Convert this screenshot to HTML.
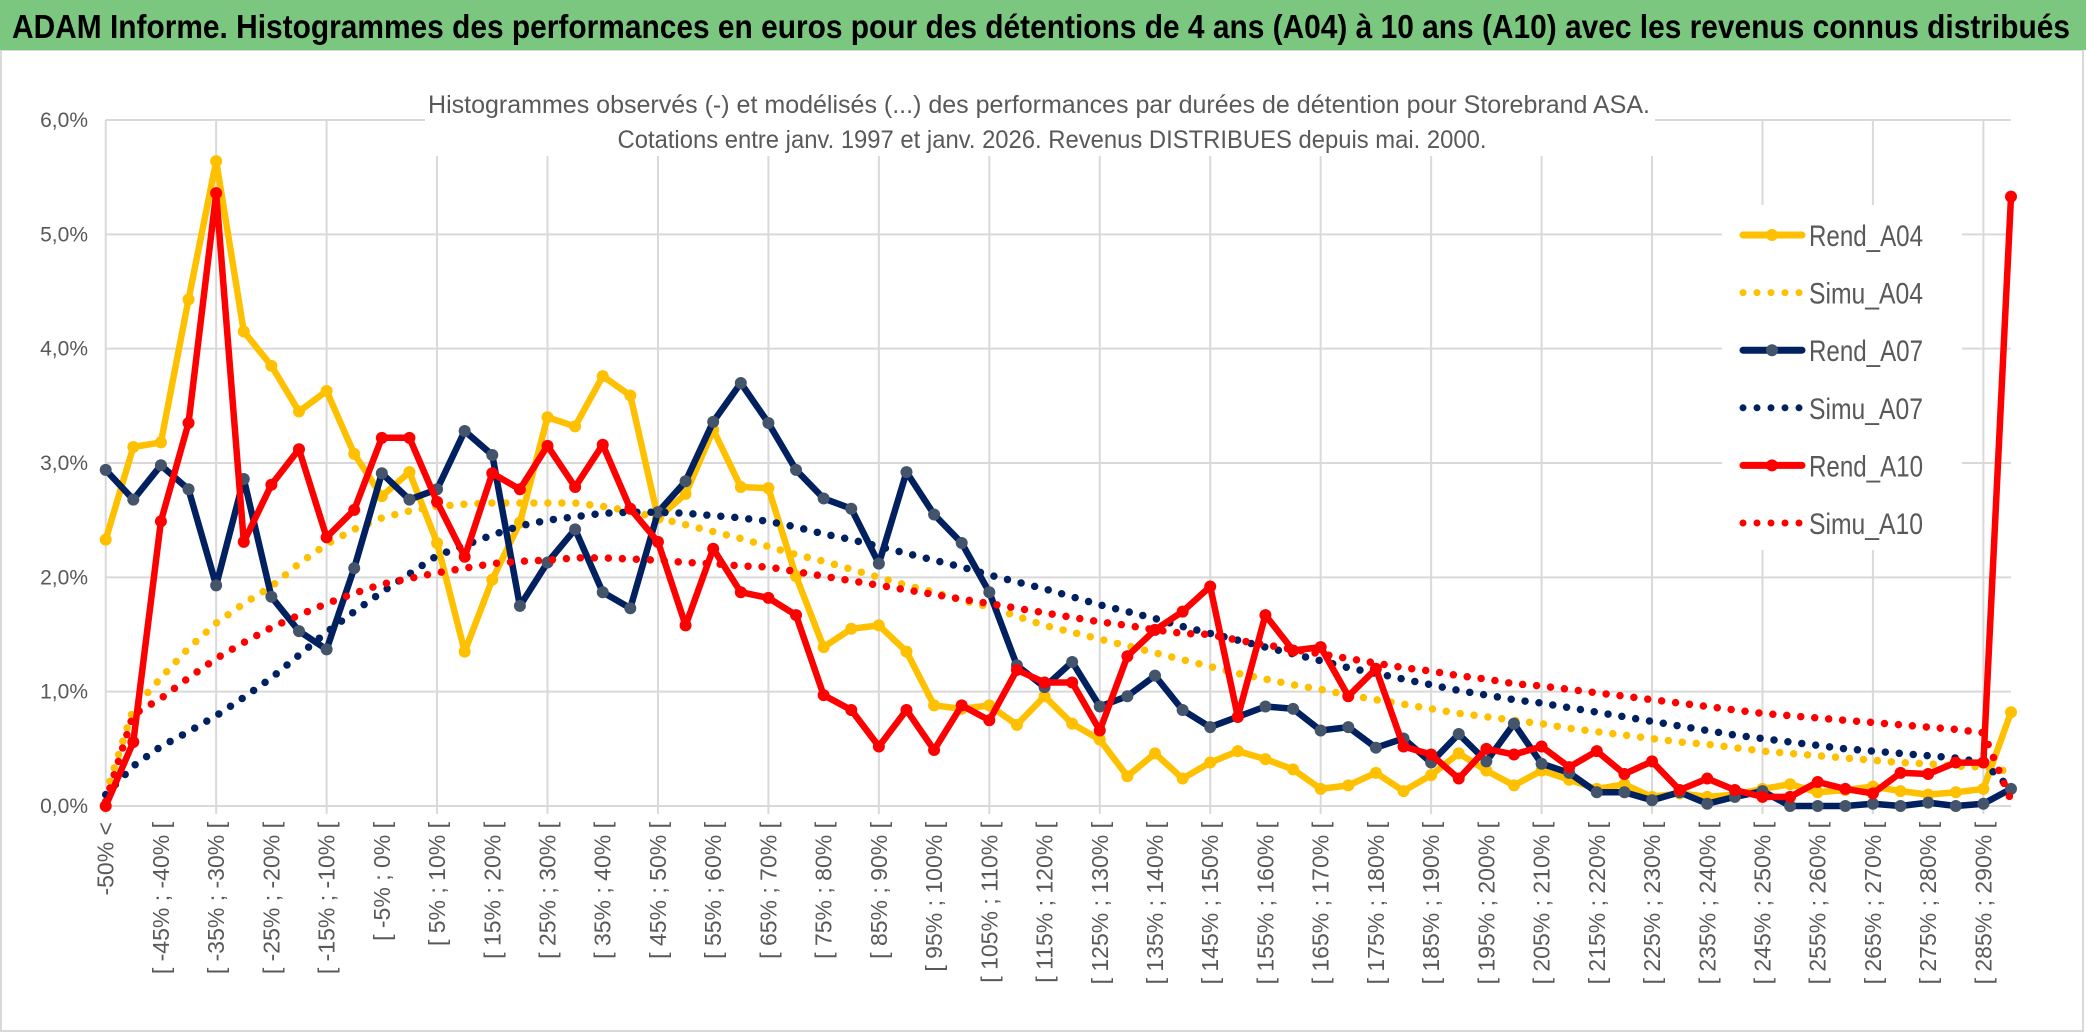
<!DOCTYPE html>
<html><head><meta charset="utf-8"><style>
html,body{margin:0;padding:0;background:#fff;}
svg{display:block;font-family:"Liberation Sans Narrow","Liberation Sans",sans-serif;}
</style></head><body>
<svg id="chart" width="2086" height="1033" viewBox="0 0 2086 1033" xmlns="http://www.w3.org/2000/svg">
<rect x="0" y="0" width="2086" height="1033" fill="#fff"/>
<rect x="1" y="50" width="2082" height="981" fill="none" stroke="#d9d9d9" stroke-width="2"/>
<rect x="0" y="0" width="2086" height="50" fill="#7cc77f"/>
<text x="12" y="38" font-size="33" font-weight="bold" fill="#000" textLength="2058" lengthAdjust="spacingAndGlyphs">ADAM Informe. Histogrammes des performances en euros pour des détentions de 4 ans (A04) à 10 ans (A10) avec les revenus connus distribués</text>
<g id="grid"></g>
<g id="yaxis"></g>
<g id="xaxis"></g>
<rect x="425" y="80" width="1230" height="76" fill="#fff"/>
<text x="1039" y="113" font-size="25" fill="#595959" text-anchor="middle" textLength="1222" lengthAdjust="spacingAndGlyphs">Histogrammes observés (-) et modélisés (...) des performances par durées de détention pour Storebrand ASA.</text>
<text x="1052" y="148" font-size="25" fill="#595959" text-anchor="middle" textLength="869" lengthAdjust="spacingAndGlyphs">Cotations entre janv. 1997 et janv. 2026. Revenus DISTRIBUES depuis mai. 2000.</text>
<g id="series"></g>
<g id="legend"></g>
</svg>
<script>
const rendA04 = [2.33,3.14,3.18,4.43,5.64,4.15,3.85,3.45,3.63,3.08,2.71,2.92,2.30,1.35,1.98,2.48,3.40,3.32,3.76,3.59,2.52,2.73,3.29,2.79,2.78,2.01,1.39,1.55,1.58,1.35,0.88,0.85,0.88,0.71,0.96,0.72,0.58,0.26,0.46,0.24,0.38,0.48,0.41,0.32,0.15,0.18,0.29,0.13,0.27,0.46,0.31,0.18,0.31,0.23,0.15,0.19,0.08,0.11,0.08,0.10,0.15,0.19,0.12,0.14,0.17,0.13,0.10,0.12,0.15,0.82];
const rendA07 = [2.94,2.68,2.98,2.77,1.93,2.86,1.83,1.53,1.37,2.08,2.91,2.68,2.77,3.28,3.07,1.75,2.13,2.42,1.87,1.73,2.57,2.84,3.36,3.70,3.35,2.94,2.69,2.60,2.12,2.92,2.55,2.30,1.87,1.23,1.04,1.26,0.87,0.96,1.14,0.84,0.69,0.78,0.87,0.85,0.66,0.69,0.51,0.59,0.38,0.63,0.39,0.72,0.37,0.29,0.12,0.12,0.05,0.12,0.02,0.08,0.13,0.00,0.00,0.00,0.02,0.00,0.03,0.00,0.02,0.15];
const rendA10 = [0.00,0.56,2.49,3.35,5.36,2.31,2.81,3.12,2.35,2.59,3.22,3.22,2.66,2.18,2.91,2.77,3.15,2.79,3.16,2.60,2.31,1.58,2.25,1.87,1.82,1.67,0.97,0.84,0.52,0.84,0.49,0.88,0.75,1.19,1.08,1.08,0.66,1.31,1.54,1.70,1.92,0.78,1.67,1.36,1.39,0.96,1.20,0.52,0.45,0.24,0.50,0.45,0.52,0.34,0.48,0.28,0.39,0.14,0.24,0.14,0.08,0.08,0.21,0.15,0.11,0.29,0.28,0.38,0.38,5.33];
const simuA04 = [0.10,0.85,1.12,1.38,1.60,1.77,1.92,2.12,2.29,2.42,2.52,2.58,2.62,2.64,2.65,2.65,2.65,2.65,2.62,2.58,2.52,2.46,2.40,2.34,2.27,2.20,2.14,2.07,2.00,1.93,1.87,1.80,1.74,1.66,1.58,1.52,1.46,1.40,1.34,1.28,1.22,1.16,1.11,1.06,1.02,0.97,0.93,0.89,0.85,0.81,0.78,0.75,0.72,0.68,0.65,0.62,0.59,0.56,0.54,0.51,0.48,0.46,0.44,0.42,0.40,0.38,0.37,0.35,0.34,0.30];
const simuA07 = [0.10,0.35,0.52,0.65,0.79,0.95,1.12,1.32,1.52,1.70,1.87,2.03,2.19,2.28,2.37,2.45,2.50,2.53,2.56,2.57,2.57,2.56,2.54,2.52,2.49,2.44,2.38,2.33,2.27,2.21,2.15,2.09,2.02,1.96,1.90,1.83,1.76,1.70,1.64,1.57,1.51,1.45,1.39,1.33,1.27,1.21,1.16,1.11,1.06,1.01,0.97,0.93,0.90,0.86,0.82,0.78,0.74,0.70,0.66,0.62,0.59,0.56,0.53,0.50,0.48,0.46,0.44,0.42,0.38,0.15];
const simuA10 = [0.04,0.80,0.94,1.12,1.29,1.43,1.56,1.67,1.77,1.86,1.94,1.99,2.04,2.08,2.12,2.14,2.15,2.17,2.17,2.16,2.15,2.13,2.12,2.10,2.09,2.05,2.01,1.97,1.93,1.89,1.85,1.81,1.77,1.73,1.69,1.65,1.61,1.58,1.54,1.51,1.50,1.45,1.41,1.37,1.33,1.29,1.25,1.21,1.18,1.14,1.11,1.07,1.05,1.02,0.99,0.96,0.93,0.90,0.87,0.84,0.81,0.79,0.77,0.75,0.73,0.71,0.69,0.67,0.64,0.05];
const categories = ["-50% <"];
for (let k = 1; k < 70; k++) { const a = -50 + 5 * (k - 1); categories.push("[ " + a + "% ; " + (a + 5) + "% ["); }
const yTicks = ["0,0%","1,0%","2,0%","3,0%","4,0%","5,0%","6,0%"];
const yMax = 6;

const NS = "http://www.w3.org/2000/svg";
const X0 = 105.7, X1 = 2011, Y0 = 806, YT = 120;
const step = (X1 - X0) / (categories.length - 1);
function xPos(i){ return X0 + i * step; }
function yPos(v){ return Y0 - (v / yMax) * (Y0 - YT); }
function mk(tag, attrs, parent){ const e = document.createElementNS(NS, tag); for (const k in attrs) e.setAttribute(k, attrs[k]); parent.appendChild(e); return e; }

const grid = document.getElementById('grid');
for (let t = 0; t < yTicks.length; t++) {
  const l = mk('line', {x1: X0, x2: X1, y1: yPos(t), y2: yPos(t), stroke: '#d9d9d9', 'stroke-width': 2}, grid);
  
  
}
for (let i = 0; i < categories.length; i += 4) {
  const l = mk('line', {x1: xPos(i), x2: xPos(i), y1: YT, y2: Y0 + 8, stroke: '#d9d9d9', 'stroke-width': 2}, grid);
  
  
}
const yaxis = document.getElementById('yaxis');
yTicks.forEach((lab, t) => {
  const e = mk('text', {x: 88, y: yPos(t) + 7, 'font-size': 21, fill: '#595959', 'text-anchor': 'end'}, yaxis);
  e.textContent = lab;
  
  
});
const xaxis = document.getElementById('xaxis');
categories.forEach((lab, i) => {
  if (i % 2) return;
  const x = xPos(i) + 8, y = 822;
  const e = mk('text', {x: x, y: y, 'font-size': 23, fill: '#595959', 'text-anchor': 'end', transform: 'rotate(-90 ' + x + ' ' + y + ')'}, xaxis);
  e.textContent = lab;
  
  
});

const series = document.getElementById('series');
function pts(arr){ return arr.map((v, i) => xPos(i).toFixed(1) + ',' + yPos(v).toFixed(1)).join(' '); }
function solid(arr, color, mcol, name){
  const g = mk('g', {}, series);
  
  
  mk('polyline', {points: pts(arr), fill: 'none', stroke: color, 'stroke-width': 6.5, 'stroke-linejoin': 'round', 'stroke-linecap': 'round'}, g);
  arr.forEach((v, i) => {
    const c = mk('circle', {cx: xPos(i), cy: yPos(v), r: 6, fill: mcol}, g);
    
    
  });
}
function dotted(arr, color, name){
  const p = mk('polyline', {points: pts(arr), fill: 'none', stroke: color, 'stroke-width': 7.5, 'stroke-dasharray': '0 14', 'stroke-linecap': 'round', 'stroke-linejoin': 'round'}, series);
  
  
}
solid(rendA04, '#ffc000', '#ffc000', 'rend-a04-line');
dotted(simuA04, '#ffc000', 'simu-a04-line');
solid(rendA07, '#002060', '#44546a', 'rend-a07-line');
dotted(simuA07, '#002060', 'simu-a07-line');
solid(rendA10, '#ff0000', '#ff0000', 'rend-a10-line');
dotted(simuA10, '#ff0000', 'simu-a10-line');

const legend = document.getElementById('legend');
mk('rect', {x: 1722, y: 205, width: 240, height: 345, fill: '#fff'}, legend);
const legItems = [["Rend_A04","#ffc000","#ffc000",false],["Simu_A04","#ffc000",null,true],["Rend_A07","#002060","#44546a",false],["Simu_A07","#002060",null,true],["Rend_A10","#ff0000","#ff0000",false],["Simu_A10","#ff0000",null,true]];
legItems.forEach((it, k) => {
  const y = 235 + k * 57.6;
  const g = mk('g', {}, legend);
  
  
  if (it[3]) {
    mk('line', {x1: 1743, x2: 1802, y1: y, y2: y, stroke: it[1], 'stroke-width': 7, 'stroke-dasharray': '0 14', 'stroke-linecap': 'round'}, g);
  } else {
    mk('line', {x1: 1743, x2: 1802, y1: y, y2: y, stroke: it[1], 'stroke-width': 7, 'stroke-linecap': 'round'}, g);
    mk('circle', {cx: 1772, cy: y, r: 6, fill: it[2]}, g);
  }
  const t = mk('text', {x: 1809, y: y + 11, 'font-size': 30, fill: '#595959', textLength: 114, lengthAdjust: 'spacingAndGlyphs'}, g);
  t.textContent = it[0];
});
</script>
</body></html>
